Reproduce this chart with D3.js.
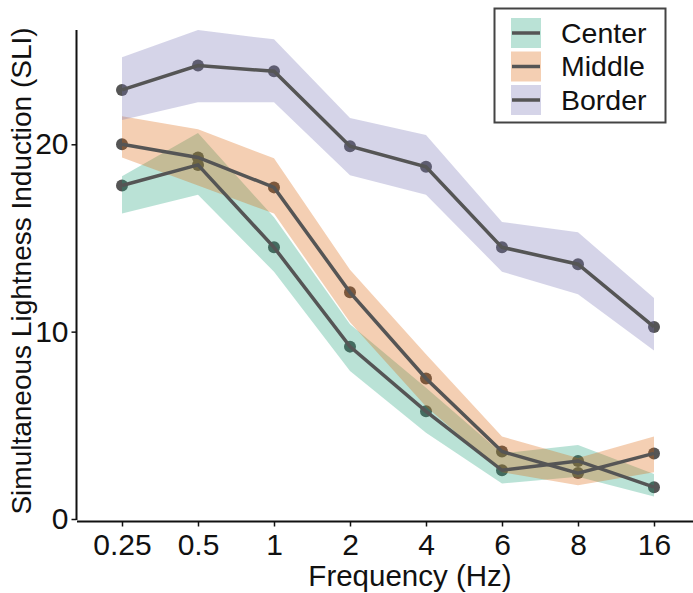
<!DOCTYPE html>
<html>
<head>
<meta charset="utf-8">
<script src="https://cdn.jsdelivr.net/npm/d3@7"></script>
<style>
  body { margin: 0; background: #fff; }
  text { font-family: "Liberation Sans", Arial, sans-serif; fill: #111; }
</style>
</head>
<body>
<div id="chart"></div>
<script>
// data
const freqs = ['0.25', '0.5', '1', '2', '4', '6', '8', '16'];
const seriesNames = ['Center', 'Middle', 'Border'];

const centerMean = [17.8, 18.9, 14.5, 9.2, 5.75, 2.6, 3.1, 1.7];
const centerLo   = [16.3, 17.3, 13.2, 7.9, 4.6, 1.9, 2.25, 1.2];
const centerHi   = [18.3, 20.6, 16.1, 10.4, 7.0, 3.5, 3.95, 2.4];

const middleMean = [20.0, 19.3, 17.7, 12.1, 7.5, 3.6, 2.45, 3.5];
const middleLo   = [19.3, 17.8, 16.3, 10.5, 6.0, 2.5, 1.8, 2.5];
const middleHi   = [21.5, 20.8, 19.25, 13.3, 8.8, 4.4, 3.25, 4.4];

const borderMean = [22.9, 24.2, 23.9, 19.9, 18.8, 14.5, 13.6, 10.25];
const borderLo   = [21.3, 22.25, 22.25, 18.35, 17.3, 13.2, 12.0, 9.0];
const borderHi   = [24.65, 26.1, 25.6, 21.4, 20.5, 15.85, 15.3, 11.8];

const yTicks = [0, 10, 20];
const colors = ['#1b9e77', '#d95f02', '#7570b3'];

const series = [
  { name: seriesNames[0], mean: centerMean, lo: centerLo, hi: centerHi, color: colors[0] },
  { name: seriesNames[1], mean: middleMean, lo: middleLo, hi: middleHi, color: colors[1] },
  { name: seriesNames[2], mean: borderMean, lo: borderLo, hi: borderHi, color: colors[2] }
];

const W = 693, H = 593;
const svg = d3.select('#chart').append('svg').attr('width', W).attr('height', H);

const x = d3.scalePoint().domain(freqs).range([122, 654]);
const y = d3.scaleLinear().domain([0, 26.1]).range([519, 30]);

const lineColor = '#555';
const bandAlpha = 0.3;

// markers first so the bands tint them
const pts = svg.append('g');
series.forEach(s => {
  pts.selectAll(null).data(s.mean).enter().append('circle')
    .attr('cx', (d, i) => x(freqs[i]))
    .attr('cy', d => y(d))
    .attr('r', 6)
    .attr('fill', lineColor);
});

// confidence bands
const area = d3.area()
  .x((d, i) => x(freqs[i]))
  .y0(d => y(d[0]))
  .y1(d => y(d[1]));
series.forEach(s => {
  svg.append('path')
    .datum(s.lo.map((v, i) => [v, s.hi[i]]))
    .attr('d', area)
    .attr('fill', s.color)
    .attr('fill-opacity', bandAlpha);
});

// mean lines
const line = d3.line().x((d, i) => x(freqs[i])).y(d => y(d));
series.forEach(s => {
  svg.append('path')
    .datum(s.mean)
    .attr('d', line)
    .attr('fill', 'none')
    .attr('stroke', lineColor)
    .attr('stroke-width', 3.5);
});

// axes
const yAxis = svg.append('g').attr('transform', 'translate(76.5,0)')
  .call(d3.axisLeft(y).tickValues(yTicks).tickSize(5).tickPadding(3));
yAxis.select('.domain').attr('d', `M0,${y.range()[1]}V${y.range()[0] + 1}`);
const xAxis = svg.append('g').attr('transform', 'translate(0,521.5)')
  .call(d3.axisBottom(x).tickSize(5).tickPadding(7));
xAxis.select('.domain').attr('d', 'M77,0H693');

[yAxis, xAxis].forEach(a => {
  a.select('.domain').attr('stroke', '#111').attr('stroke-width', 2);
  a.selectAll('.tick line').attr('stroke', '#111').attr('stroke-width', 1.5);
  a.selectAll('.tick text').attr('font-size', 30).attr('fill', '#111')
    .style('font-family', '"Liberation Sans", Arial, sans-serif');
});

svg.append('text')
  .attr('x', 410).attr('y', 586)
  .attr('text-anchor', 'middle')
  .attr('font-size', 29.5)
  .text('Frequency (Hz)');

svg.append('text')
  .attr('transform', 'translate(31,271) rotate(-90)')
  .attr('text-anchor', 'middle')
  .attr('font-size', 28)
  .text('Simultaneous Lightness Induction (SLI)');

// legend
const leg = svg.append('g');
leg.append('rect')
  .attr('x', 494.5).attr('y', 8.5).attr('width', 171).attr('height', 114)
  .attr('fill', '#fff').attr('stroke', '#444').attr('stroke-width', 2);
series.forEach((s, i) => {
  const cy = 33 + i * 33.5;
  leg.append('rect')
    .attr('x', 511).attr('y', cy - 15).attr('width', 30).attr('height', 30)
    .attr('fill', s.color).attr('fill-opacity', bandAlpha);
  leg.append('line')
    .attr('x1', 512).attr('x2', 540).attr('y1', cy).attr('y2', cy)
    .attr('stroke', lineColor).attr('stroke-width', 3.5);
  leg.append('text')
    .attr('x', 561).attr('y', cy).attr('dy', '0.35em')
    .attr('font-size', 28.5)
    .text(s.name);
});
</script>
</body>
</html>
